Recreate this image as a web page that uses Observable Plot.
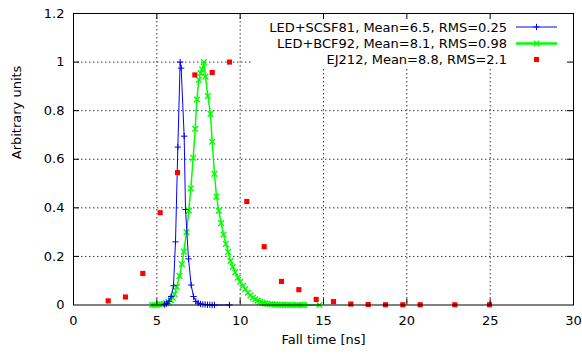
<!DOCTYPE html>
<html><head><meta charset="utf-8">
<script src="https://cdn.jsdelivr.net/npm/d3@7"></script>
<script src="https://cdn.jsdelivr.net/npm/@observablehq/plot@0.6"></script>
<style>
body{margin:0;background:#fff;}
#chart{width:582px;height:354px;}
</style></head><body><div id="chart"></div>
<script>
const xTicks = [0, 5, 10, 15, 20, 25, 30];
const yTicks = [0, 0.2, 0.4, 0.6, 0.8, 1, 1.2];
const xGrid = [5, 10, 15, 20, 25];
const yGrid = [0.2, 0.4, 0.6, 0.8, 1];
const xLabel = "Fall time [ns]";
const yLabel = "Arbitrary units";
const seriesNames = ["LED+SCSF81, Mean=6.5, RMS=0.25", "LED+BCF92, Mean=8.1, RMS=0.98", "EJ212, Mean=8.8, RMS=2.1"];
const seriesColors = ["#0000ff", "#00ff00", "#ff0000"];

// LED+SCSF81 (blue)
const scsfX = [5.46, 5.58, 5.72, 5.86, 6.0, 6.12, 6.26, 6.40, 6.46, 6.64, 6.72, 6.90, 7.06, 7.20, 7.34, 7.48, 7.62, 7.76, 7.90, 8.04, 8.18, 8.32, 8.46, 9.36];
const scsfY = [0.002, 0.006, 0.015, 0.035, 0.079, 0.26, 0.65, 1.0, 0.975, 0.695, 0.393, 0.19, 0.082, 0.035, 0.015, 0.008, 0.004, 0.003, 0.002, 0.001, 0.001, 0.0, 0.0, 0.0];

// LED+BCF92 (green)
const bcfX = [4.72, 4.86, 5.0, 5.14, 5.28, 5.42, 5.56, 5.70, 5.84, 5.96, 6.06, 6.20, 6.36, 6.50, 6.62, 6.78, 6.92, 7.04, 7.18, 7.30, 7.40, 7.52, 7.62, 7.72, 7.82, 7.92, 8.06, 8.22, 8.32, 8.46, 8.58, 8.72, 8.86, 9.00, 9.14, 9.28, 9.42, 9.56, 9.70, 9.86, 10.00, 10.16, 10.30, 10.46, 10.62, 10.76, 10.90, 11.04, 11.20, 11.34, 11.50, 11.64, 11.80, 11.94, 12.10, 12.24, 12.40, 12.54, 12.70, 12.84, 13.00, 13.14, 13.30, 13.44, 13.60, 13.74, 13.86, 14.76];
const bcfY = [0, 0, 0.001, 0.002, 0.003, 0.005, 0.008, 0.013, 0.02, 0.03, 0.045, 0.075, 0.12, 0.168, 0.22, 0.30, 0.388, 0.48, 0.606, 0.725, 0.846, 0.927, 0.955, 0.97, 1.0, 0.94, 0.86, 0.787, 0.672, 0.54, 0.446, 0.388, 0.337, 0.29, 0.252, 0.219, 0.182, 0.157, 0.134, 0.113, 0.095, 0.079, 0.065, 0.051, 0.04, 0.03, 0.023, 0.018, 0.013, 0.01, 0.007, 0.005, 0.004, 0.003, 0.002, 0.002, 0.001, 0.001, 0.001, 0.001, 0, 0, 0, 0, 0, 0, 0, 0];

// EJ212 (red)
const ejX = [2.08, 3.12, 4.16, 5.2, 6.24, 7.28, 8.32, 9.36, 10.4, 11.44, 12.48, 13.52, 14.56, 15.6, 16.64, 17.68, 18.72, 19.76, 20.8, 22.88, 24.96];
const ejY = [0.017, 0.033, 0.13, 0.38, 0.545, 0.947, 0.957, 1.0, 0.426, 0.24, 0.097, 0.063, 0.023, 0.014, 0.004, 0.002, 0.001, 0.001, 0.001, 0.001, 0.001];

const scsf = scsfX.map((x, i) => ({x, y: scsfY[i]}));
const bcf = bcfX.map((x, i) => ({x, y: bcfY[i]}));
const ej = ejX.map((x, i) => ({x, y: ejY[i]}));

const FONT = "DejaVu Sans";
const W = 582, H = 354, ML = 73, MR = 9, MT = 13, MB = 49.5;
const TICK = 6;
const fh = H - MT - MB, fw = W - ML - MR;

function legendMark(index, scales, values, dims) {
  const g = d3.create("svg:g");
  const right = dims.width - dims.marginRight;
  const top = dims.marginTop;
  g.append("rect").attr("x", 252).attr("y", top + 0.5).attr("width", right - 252).attr("height", 54).attr("fill", "#fff");
  const rows = [27, 43.5, 59.5];
  const sx1 = right - 57, sx2 = right - 16, sm = (sx1 + sx2) / 2;
  seriesNames.forEach((name, i) => {
    g.append("text").attr("x", right - 66).attr("y", rows[i]).attr("dy", "0.35em")
      .attr("text-anchor", "end").attr("font-family", FONT).attr("font-size", 13).attr("fill", "#000").text(name);
  });
  g.append("line").attr("x1", sx1).attr("x2", sx2).attr("y1", rows[0]).attr("y2", rows[0]).attr("stroke", seriesColors[0]).attr("stroke-width", 1);
  g.append("path").attr("d", d3.symbol(d3.symbolPlus, 15)()).attr("transform", `translate(${sm},${rows[0]})`).attr("stroke", seriesColors[0]).attr("fill", "none").attr("stroke-width", 1);
  g.append("line").attr("x1", sx1).attr("x2", sx2).attr("y1", rows[1]).attr("y2", rows[1]).attr("stroke", seriesColors[1]).attr("stroke-width", 2.5);
  g.append("path").attr("d", d3.symbol(d3.symbolTimes, 22)()).attr("transform", `translate(${sm},${rows[1]})`).attr("stroke", seriesColors[1]).attr("fill", "none").attr("stroke-width", 1.5);
  g.append("path").attr("d", d3.symbol(d3.symbolSquare, 26)()).attr("transform", `translate(${sm},${rows[2]})`).attr("fill", seriesColors[2]);
  return g.node();
}

const plot = Plot.plot({
  width: W, height: H,
  marginLeft: ML, marginRight: MR, marginTop: MT, marginBottom: MB,
  style: {fontFamily: FONT, fontSize: "13px", color: "#000", background: "#fff"},
  x: {domain: [0, 30]},
  y: {domain: [0, 1.2]},
  marks: [
    Plot.ruleX(xGrid, {x: d => d, stroke: "#222", strokeOpacity: 0.9, strokeDasharray: "1.5,2.5"}),
    Plot.ruleY(yGrid, {y: d => d, stroke: "#222", strokeOpacity: 0.9, strokeDasharray: "1.5,2.5"}),
    legendMark,
    Plot.line(bcf, {x: "x", y: "y", stroke: seriesColors[1], strokeWidth: 1.5}),
    Plot.dot(bcf, {x: "x", y: "y", symbol: "times", stroke: seriesColors[1], strokeWidth: 1.4, r: 2.7}),
    Plot.line(scsf, {x: "x", y: "y", stroke: seriesColors[0], strokeWidth: 1}),
    Plot.dot(scsf, {x: "x", y: "y", symbol: "plus", stroke: seriesColors[0], strokeWidth: 1, r: 2.2}),
    Plot.dot(ej, {x: "x", y: "y", symbol: "square", fill: seriesColors[2], r: 2.9}),
    Plot.tickX(xTicks.slice(1, -1), {x: d => d, stroke: "#000", insetTop: fh - TICK}),
    Plot.tickX(xTicks.slice(1, -1), {x: d => d, stroke: "#000", insetBottom: fh - TICK}),
    Plot.tickY(yTicks.slice(1, -1), {y: d => d, stroke: "#000", insetRight: fw - TICK}),
    Plot.tickY(yTicks.slice(1, -1), {y: d => d, stroke: "#000", insetLeft: fw - TICK}),
    Plot.frame({stroke: "#000", strokeWidth: 1}),
    Plot.axisX({ticks: xTicks, tickSize: 0, tickPadding: 11, tickFormat: d => String(d), label: null, fill: "#000"}),
    Plot.axisY({ticks: yTicks, tickSize: 0, tickPadding: 9, tickFormat: d => String(d), label: null, fill: "#000"}),
    Plot.text([xLabel], {frameAnchor: "bottom", dy: 38.5, text: d => d, fontSize: 13, fill: "#000"}),
    Plot.text([yLabel], {frameAnchor: "left", dx: -57, rotate: -90, text: d => d, fontSize: 13, fill: "#000"})
  ]
});
document.getElementById("chart").appendChild(plot);
</script>
</body></html>
